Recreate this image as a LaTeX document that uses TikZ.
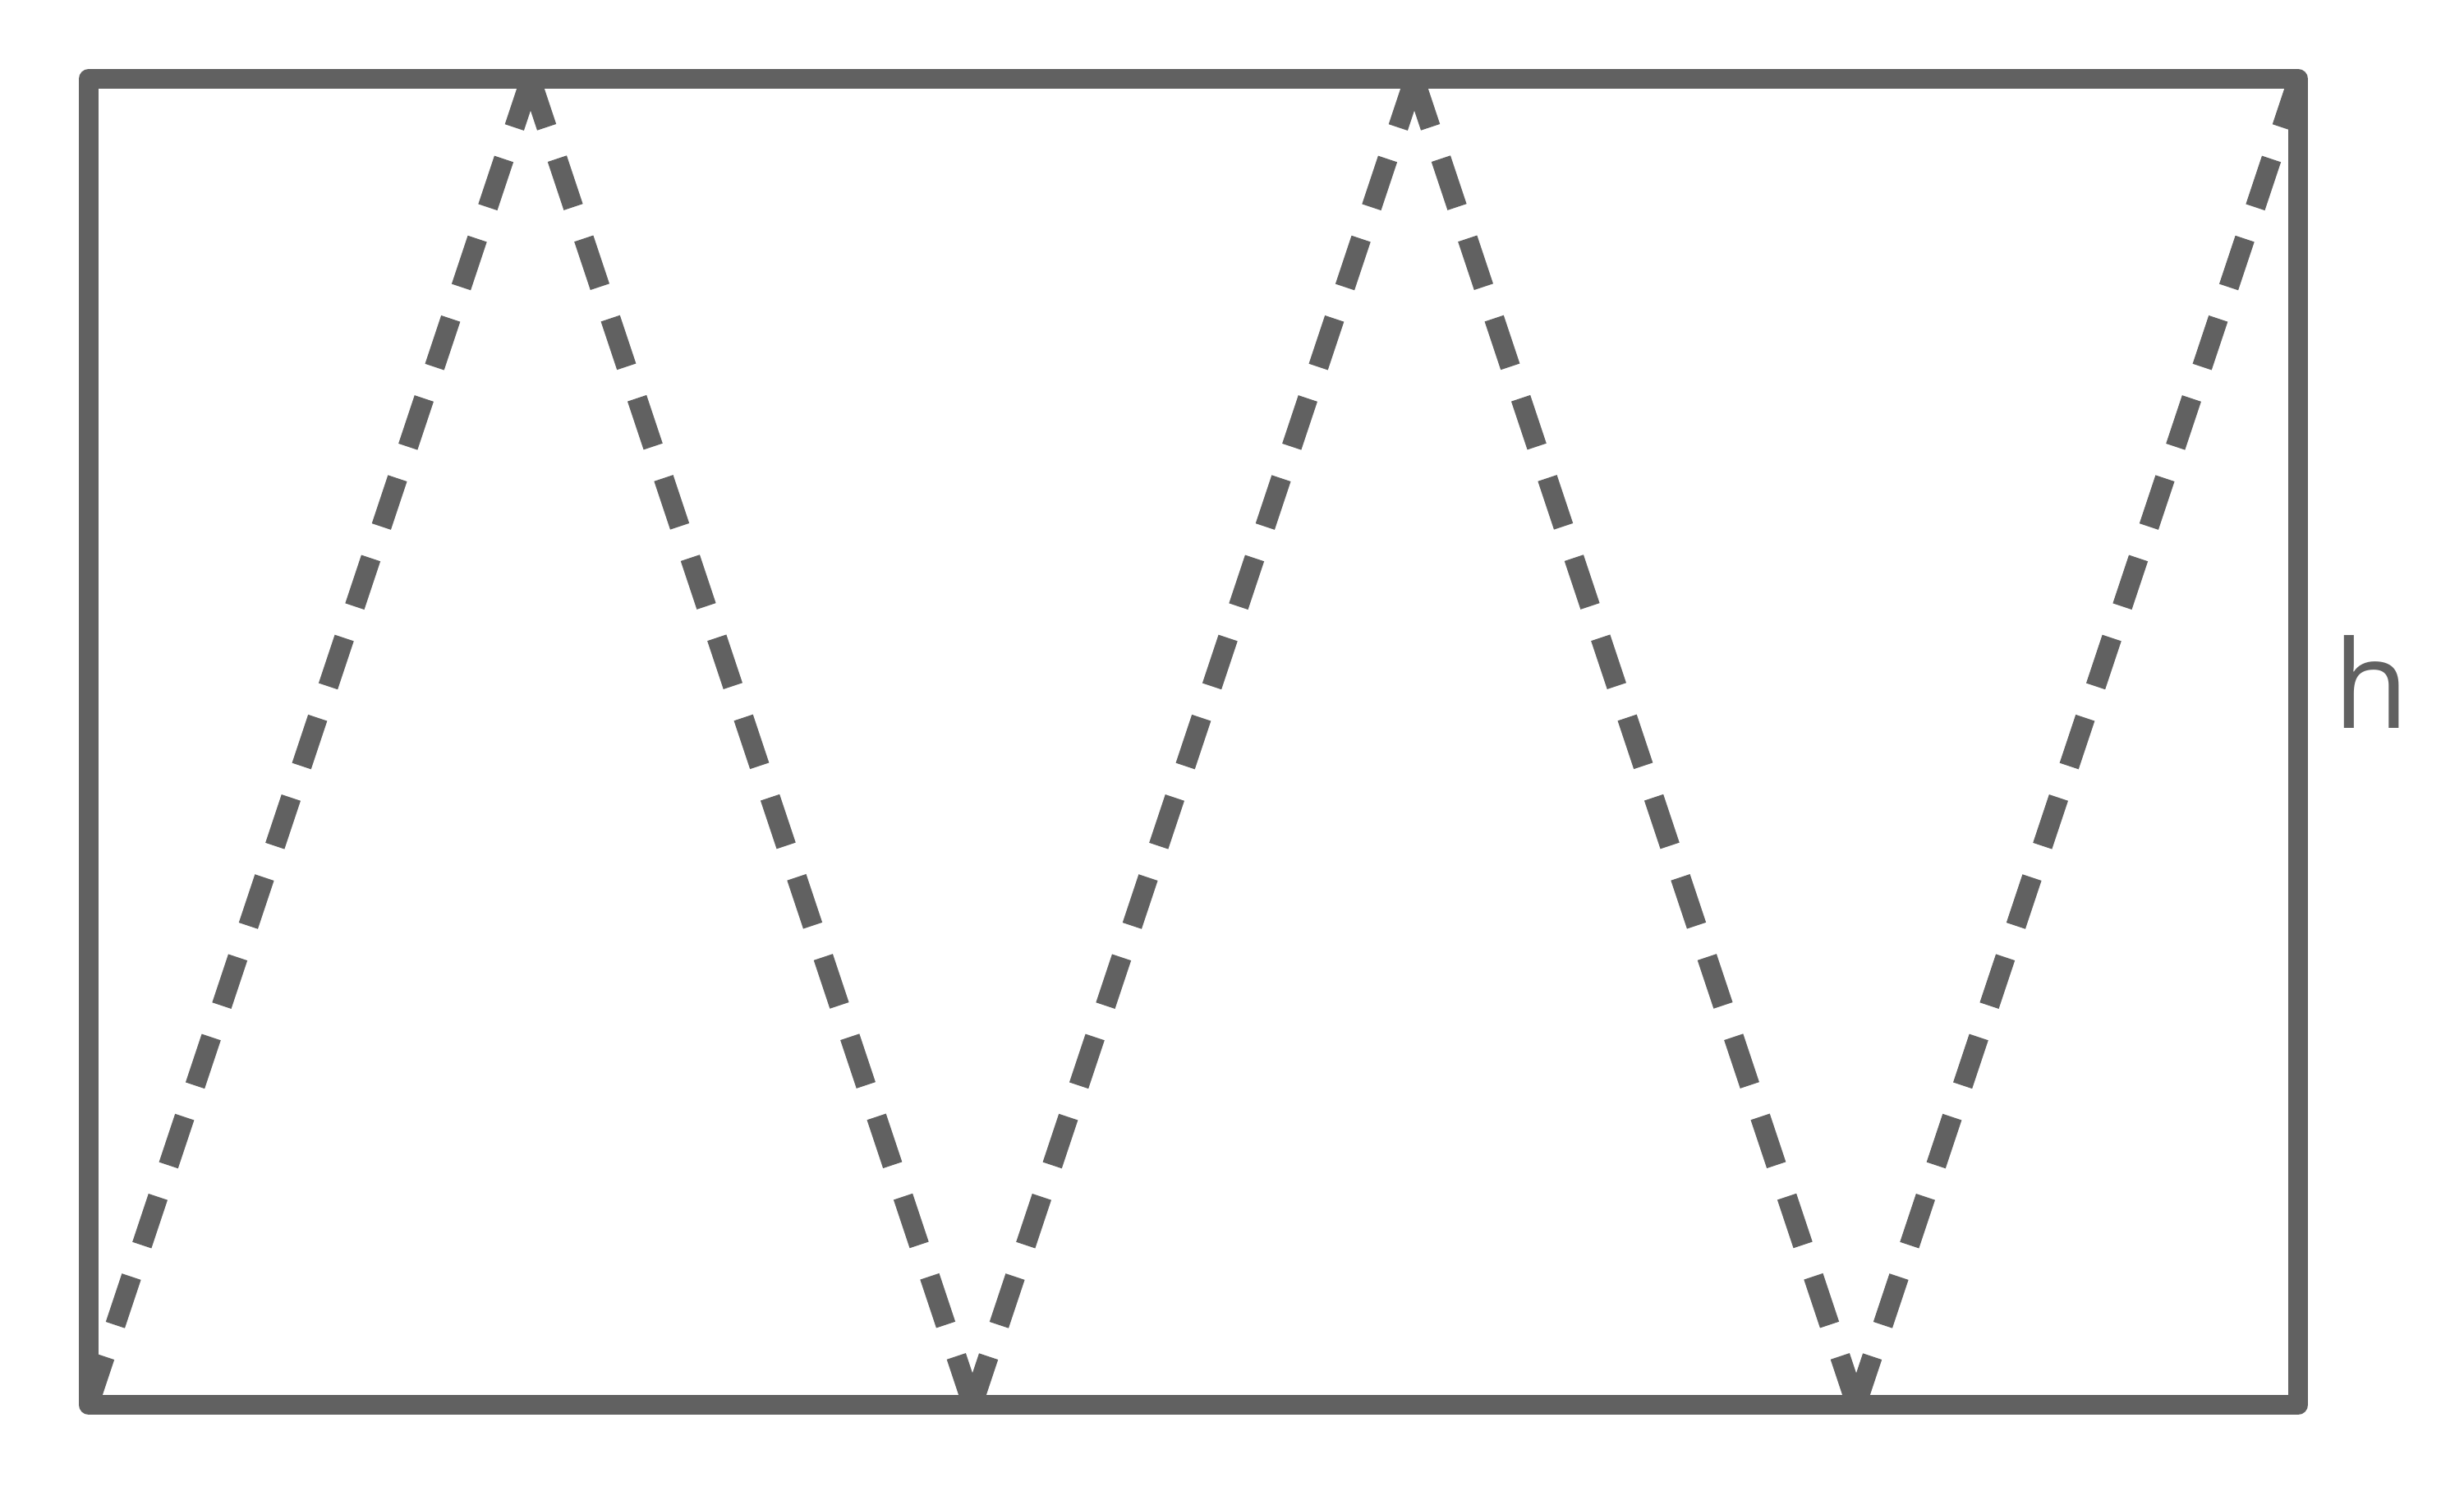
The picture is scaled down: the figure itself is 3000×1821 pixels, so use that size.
\documentclass[tikz,border=0pt]{standalone}
\usepackage{fontspec}
\setmainfont{Open Sans}
\definecolor{ink}{RGB}{97,97,97}
\begin{document}
\begin{tikzpicture}[x=0.25pt,y=-0.25pt,
  frame/.style={draw=ink,line width=6.1pt,line join=round,line cap=round},
  zig/.style={draw=ink,line width=6.1pt,line cap=butt,dash pattern=on 15.5pt off 10.11pt},
  lbl/.style={text=ink,font=\fontsize{37.2pt}{40pt}\selectfont,inner sep=0pt,anchor=base}]
\useasboundingbox (0,0) rectangle (3000,1821);
\coordinate (TL) at (108,96);
\coordinate (TR) at (2798,96);
\coordinate (BR) at (2798,1710);
\coordinate (BL) at (108,1710);
\coordinate (B0) at (108,1710);
\coordinate (T1) at (646,96);
\coordinate (B2) at (1184,1710);
\coordinate (T3) at (1722,96);
\coordinate (B4) at (2260,1710);
\coordinate (T5) at (2798,96);
\draw[zig] (B0) -- (T1);
\draw[zig] (T1) -- (B2);
\draw[zig] (B2) -- (T3);
\draw[zig] (T3) -- (B4);
\draw[zig] (B4) -- (T5);
\draw[frame] (TL) -- (TR) -- (BR) -- (BL) -- cycle;
\node[lbl] (h) at (2887.5,886) {h};
\end{tikzpicture}
\end{document}
